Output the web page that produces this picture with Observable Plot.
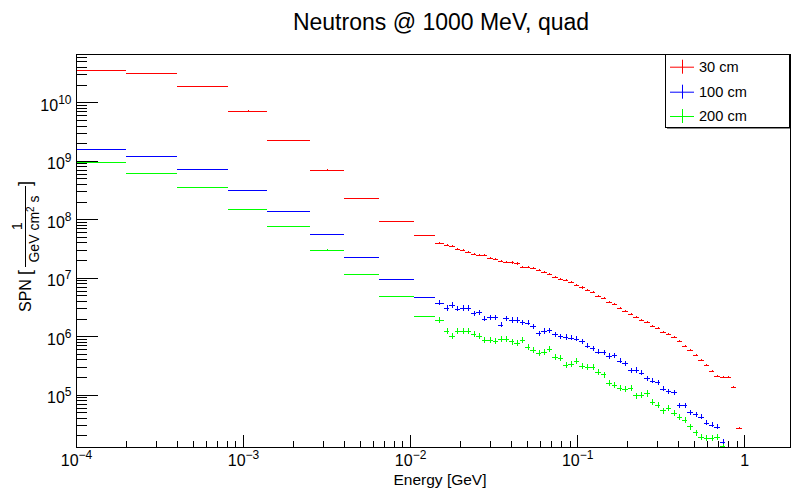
<!DOCTYPE html>
<html><head><meta charset="utf-8">
<script src="https://cdn.jsdelivr.net/npm/d3@7"></script>
<script src="https://cdn.jsdelivr.net/npm/@observablehq/plot@0.6"></script>
<style>
html,body{margin:0;padding:0;background:#fff;overflow:hidden;}
svg text{font-family:"Liberation Sans",Arial,Helvetica,sans-serif;}
</style></head><body><div id="chart"></div>
<script>
// bin edges in GeV (9 wide bins + 56 narrow bins)
const edges = [1e-4, 2e-4, 4e-4, 8.1e-4, 1.4e-3, 2.5e-3, 4.0e-3, 6.5e-3, 1.05e-2, 1.4e-2,
  0.01592, 0.01715, 0.01848, 0.01991, 0.02146, 0.02312, 0.02491, 0.02684, 0.02892, 0.03116,
  0.03357, 0.03617, 0.03898, 0.04200, 0.04525, 0.04876, 0.05253, 0.05660, 0.06099, 0.06571,
  0.07080, 0.07628, 0.08219, 0.08856, 0.09542, 0.1028, 0.1108, 0.1194, 0.1286, 0.1386,
  0.1493, 0.1609, 0.1733, 0.1868, 0.2012, 0.2168, 0.2336, 0.2517, 0.2712, 0.2922,
  0.3149, 0.3392, 0.3655, 0.3938, 0.4244, 0.4572, 0.4927, 0.5308, 0.5719, 0.6162,
  0.6640, 0.7154, 0.7708, 0.8305, 0.8949, 0.9642];

const red30 = [3.52e10, 3.13e10, 1.90e10, 7.18e9, 2.24e9, 7.05e8, 2.29e8, 9.25e7, 5.32e7,
  3.88e7, 3.64e7, 3.45e7, 3.11e7, 2.99e7, 2.76e7, 2.55e7, 2.49e7, 2.45e7, 2.18e7,
  2.10e7, 1.96e7, 1.89e7, 1.82e7, 1.75e7, 1.53e7, 1.51e7, 1.45e7, 1.33e7, 1.25e7,
  1.165e7, 1.03e7, 9.65e6, 9.1e6, 8.35e6, 7.6e6, 6.8e6, 6.1e6, 5.6e6, 4.95e6,
  4.45e6, 3.9e6, 3.5e6, 3.05e6, 2.7e6, 2.4e6, 2.1e6, 1.9e6, 1.75e6, 1.52e6,
  1.38e6, 1.20e6, 1.10e6, 9.5e5, 8.15e5, 6.8e5, 5.9e5, 4.76e5, 3.88e5, 3.23e5,
  2.50e5, 2.10e5, 1.99e5, 1.99e5, 1.34e5, 2.67e4];

const blue100 = [1.59e9, 1.19e9, 7.16e8, 3.13e8, 1.37e8, 5.61e7, 2.24e7, 9.42e6, 4.65e6,
  3.76e6, 3.05e6, 3.43e6, 2.97e6, 3.05e6, 3.05e6, 2.47e6, 2.57e6, 2.00e6, 2.11e6,
  2.11e6, 1.58e6, 2.03e6, 1.90e6, 1.90e6, 1.73e6, 1.71e6, 1.48e6, 1.12e6, 1.23e6,
  1.27e6, 1.08e6, 1.00e6, 9.7e5, 9.4e5, 9.1e5, 8.2e5, 6.9e5, 6.15e5, 5.46e5,
  5.32e5, 4.60e5, 4.67e5, 3.83e5, 3.45e5, 2.59e5, 2.65e5, 2.36e5, 1.91e5, 1.74e5,
  1.63e5, 1.26e5, 1.15e5, 1.09e5, 6.52e4, 6.6e4, 5.0e4, 4.57e4, 4.18e4, 3.30e4,
  3.05e4, 2.82e4, 1.56e4, null, null, null];

const green200 = [9.43e8, 6.11e8, 3.56e8, 1.48e8, 7.59e7, 3.02e7, 1.15e7, 4.89e6, 2.22e6,
  1.87e6, 1.22e6, 1.0e6, 1.22e6, 1.23e6, 1.23e6, 1.08e6, 1.0e6, 8.65e5, 8.65e5,
  8.2e5, 8.9e5, 8.9e5, 8.1e5, 7.7e5, 8.65e5, 6.65e5, 5.83e5, 5.12e5, 5.32e5,
  6.0e5, 4.48e5, 4.31e5, 3.23e5, 3.32e5, 3.78e5, 3.11e5, 2.95e5, 2.95e5, 2.43e5,
  2.21e5, 1.57e5, 1.47e5, 1.32e5, 1.24e5, 1.29e5, 9.66e4, 9.8e4, 1.05e5, 7.62e4,
  6.7e4, 5.35e4, 5.87e4, 4.83e4, 4.18e4, 3.71e4, 2.85e4, 2.25e4, 1.88e4, 1.83e4,
  1.83e4, 1.88e4, 1.30e4, null, null, null];

const seriesNames = ["30 cm", "100 cm", "200 cm"];
const seriesColors = ["#ff0000", "#0000ff", "#00ff00"];
const relErrNarrow = [0.04, 0.10, 0.12];
const relErrWide = 0.01;
const nWide = 9;
const yTicks = [1e5, 1e6, 1e7, 1e8, 1e9, 1e10];
const xTicks = [1e-4, 1e-3, 1e-2, 1e-1, 1];
const xTickLabels = ["10^\u22124", "10^\u22123", "10^\u22122", "10^\u22121", "1"];
const yTickLabels = ["10^5", "10^6", "10^7", "10^8", "10^9", "10^10"];
const xDomain = [1e-4, 1.88];
const yDomain = [1.27e4, 6.7e10];
const titleText = "Neutrons @ 1000 MeV, quad";
const xTitle = "Energy [GeV]";

const W = 791, H = 488, mL = 76, mR = 1, mT = 54, mB = 41;
const fw = W - mL - mR, fh = H - mT - mB;

const rows = [];
[red30, blue100, green200].forEach((vals, s) => vals.forEach((v, i) => {
  if (v == null) return;
  const lo = edges[i], hi = edges[i + 1];
  const e = i < nWide ? relErrWide : relErrNarrow[s];
  rows.push({series: seriesNames[s], lo, hi, c: Math.sqrt(lo * hi), v, e1: v * (1 - e), e2: v * (1 + e)});
}));

const yMinor = [], xMinor = [];
for (let p = 4; p <= 10; p++) for (let m = 2; m <= 9; m++) { const v = m * 10 ** p; if (v > yDomain[0] && v < yDomain[1]) yMinor.push(v); }
for (let p = -4; p <= 0; p++) for (let m = 2; m <= 9; m++) { const v = m * 10 ** p; if (v > xDomain[0] && v < xDomain[1]) xMinor.push(v); }

const color = {domain: seriesNames, range: seriesColors};

const svg = Plot.plot({
  width: W, height: H,
  marginLeft: mL, marginRight: mR, marginTop: mT, marginBottom: mB,
  style: {fontFamily: "Liberation Sans, Arial, sans-serif", fontSize: "16px", color: "black", background: "white"},
  x: {type: "log", domain: xDomain},
  y: {type: "log", domain: yDomain},
  color,
  marks: [
    Plot.ruleY(yTicks, {insetRight: fw - 22, stroke: "black", shapeRendering: "crispEdges"}),
    Plot.ruleY(yMinor, {insetRight: fw - 11, stroke: "black", shapeRendering: "crispEdges"}),
    Plot.ruleX(xTicks, {insetTop: fh - 12, stroke: "black", shapeRendering: "crispEdges"}),
    Plot.ruleX(xMinor, {insetTop: fh - 6, stroke: "black", shapeRendering: "crispEdges"}),
    Plot.axisY(yTicks, {tickSize: 0, tickPadding: 5, dy: 3, fontSize: 16, label: null,
      tickFormat: (d) => yTickLabels[yTicks.indexOf(d)]}),
    Plot.axisX(xTicks, {tickSize: 0, tickPadding: 7, fontSize: 16, label: null,
      tickFormat: (d) => xTickLabels[xTicks.indexOf(d)]}),
    Plot.ruleY(rows, {y: "v", x1: "lo", x2: "hi", stroke: "series", strokeWidth: 1, clip: true, shapeRendering: "crispEdges"}),
    Plot.ruleX(rows, {x: "c", y1: "e1", y2: "e2", stroke: "series", strokeWidth: 1, clip: true, shapeRendering: "crispEdges"}),
    Plot.frame({stroke: "black", shapeRendering: "crispEdges"})
  ]
});

document.getElementById("chart").appendChild(svg);
const s = d3.select(svg);

// superscript tick labels
s.selectAll("g[aria-label='x-axis tick label'] text, g[aria-label='y-axis tick label'] text").each(function () {
  const t = d3.select(this);
  const txt = t.text();
  const m = txt.match(/^10\^(.+)$/);
  if (!m) return;
  t.text(null);
  t.append("tspan").text("10");
  t.append("tspan").attr("dy", "-7").attr("font-size", "12").text(m[1]);
});

// title
s.append("text").attr("x", 441).attr("y", 30).attr("text-anchor", "middle")
  .attr("font-size", 23).attr("fill", "black").text(titleText);

// x axis title
s.append("text").attr("x", 440).attr("y", 484.5).attr("text-anchor", "middle")
  .attr("font-size", 15.5).attr("fill", "black").text(xTitle);

// y axis title: SPN [ 1 / (GeV cm^2 s) ]
const yl = s.append("g").attr("transform", "rotate(-90)").attr("fill", "black");
yl.append("text").attr("x", -312).attr("y", 31).attr("font-size", 16).attr("text-anchor", "start").text("SPN");
yl.append("text").attr("x", -275).attr("y", 31).attr("font-size", 18).attr("text-anchor", "start").text("[");
yl.append("text").attr("x", -226).attr("y", 22).attr("font-size", 14).attr("text-anchor", "middle").text("1");
yl.append("line").attr("x1", -267).attr("x2", -186).attr("y1", 25.5).attr("y2", 25.5).attr("stroke", "black");
const den = yl.append("text").attr("x", -229).attr("y", 39).attr("font-size", 14).attr("text-anchor", "middle");
den.append("tspan").text("GeV cm");
den.append("tspan").attr("dy", -5).attr("font-size", 10).text("2");
den.append("tspan").attr("dy", 5).text(" s");
yl.append("text").attr("x", -186).attr("y", 31).attr("font-size", 18).attr("text-anchor", "start").text("]");

// legend
const lg = s.append("g");
lg.append("rect").attr("x", 665.5).attr("y", 54.5).attr("width", 124).attr("height", 73)
  .attr("fill", "white").attr("stroke", "black");
lg.append("line").attr("x1", 667).attr("x2", 790).attr("y1", 128.5).attr("y2", 128.5).attr("stroke", "#888");
const ly = [66.7, 91.7, 116];
seriesNames.forEach((n, i) => {
  lg.append("line").attr("x1", 670).attr("x2", 694).attr("y1", ly[i] + 0.5).attr("y2", ly[i] + 0.5).attr("stroke", seriesColors[i]);
  lg.append("line").attr("x1", 682.5).attr("x2", 682.5).attr("y1", ly[i] - 7).attr("y2", ly[i] + 7).attr("stroke", seriesColors[i]);
  lg.append("text").attr("x", 699).attr("y", ly[i]).attr("dy", "0.36em").attr("font-size", 14.6)
    .attr("text-anchor", "start").attr("fill", "black").text(n);
});
</script></body></html>
